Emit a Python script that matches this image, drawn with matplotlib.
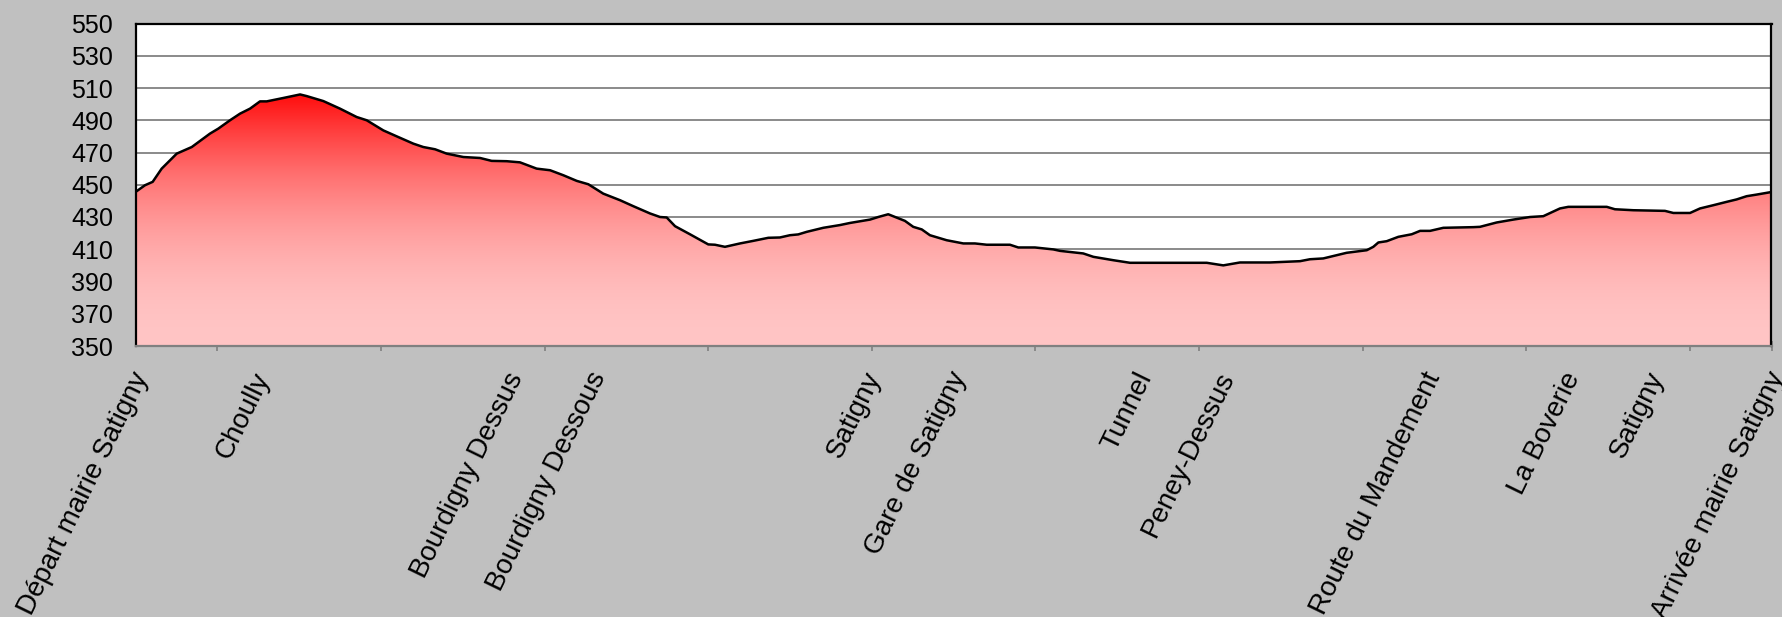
import numpy as np
import matplotlib
matplotlib.use("Agg")
import matplotlib.pyplot as plt

# ---- data -------------------------------------------------------------
dist = [0.0, 0.058, 0.105, 0.160, 0.252, 0.344, 0.455, 0.506, 0.578, 0.639,
        0.700, 0.761, 0.802, 0.903, 1.006, 1.046, 1.148, 1.250, 1.352, 1.413,
        1.515, 1.597, 1.698, 1.759, 1.831, 1.902, 2.004, 2.106, 2.177, 2.269,
        2.350, 2.452, 2.534, 2.615, 2.697, 2.768, 2.859, 2.962, 3.043, 3.145,
        3.206, 3.247, 3.298, 3.389, 3.501, 3.542, 3.603, 3.695, 3.776, 3.868,
        3.939, 4.000, 4.051, 4.103, 4.204, 4.306, 4.367, 4.490, 4.540, 4.601,
        4.703, 4.754, 4.806, 4.856, 4.958, 5.060, 5.131, 5.203, 5.345, 5.396,
        5.498, 5.610, 5.651, 5.793, 5.855, 5.977, 6.079, 6.548, 6.649, 6.751,
        6.934, 7.118, 7.179, 7.260, 7.301, 7.403, 7.526, 7.566, 7.597, 7.648,
        7.719, 7.801, 7.852, 7.913, 7.994, 8.177, 8.218, 8.320, 8.422, 8.524,
        8.605, 8.707, 8.758, 8.993, 9.043, 9.155, 9.349, 9.400, 9.502, 9.563,
        9.644, 9.726, 9.787, 9.848, 9.909, 10.0]

elev = [445.5, 449.7, 451.8, 460.0, 469.3, 473.4, 481.7, 484.8, 490.0, 494.1,
        497.2, 501.7, 501.7, 503.8, 506.0, 505.0, 501.9, 497.2, 492.0, 490.0,
        483.7, 480.0, 475.5, 473.4, 472.0, 469.3, 467.2, 466.6, 464.8, 464.6,
        463.9, 460.0, 459.0, 455.9, 452.4, 450.3, 444.5, 440.4, 436.7, 432.2,
        430.0, 429.7, 424.3, 419.3, 413.0, 412.8, 411.5, 413.6, 415.2, 417.1,
        417.3, 418.7, 419.2, 420.8, 423.3, 425.0, 426.3, 428.4, 430.0, 431.7,
        427.6, 423.9, 422.3, 418.7, 415.6, 413.6, 413.6, 412.8, 412.8, 411.1,
        411.1, 409.9, 409.0, 407.4, 405.3, 403.2, 401.6, 401.6, 400.0, 401.8,
        401.8, 402.6, 403.8, 404.3, 405.3, 407.8, 409.4, 411.5, 414.2, 415.0,
        417.7, 419.3, 421.4, 421.4, 423.3, 423.7, 423.9, 426.6, 428.4, 430.0,
        430.5, 435.3, 436.3, 436.3, 434.8, 434.2, 433.8, 432.5, 432.5, 435.3,
        437.3, 439.4, 440.9, 442.9, 443.9, 445.5]

place_dist = [0.0, 0.743, 2.289, 2.797, 4.477, 5.0, 6.137, 6.635, 7.897,
              8.750, 9.260, 10.0]
place_names = ["Départ mairie Satigny", "Choully", "Bourdigny Dessus",
               "Bourdigny Dessous", "Satigny", "Gare de Satigny", "Tunnel",
               "Peney-Dessus", "Route du Mandement", "La Boverie", "Satigny",
               "Arrivée mairie Satigny"]

y_ticks = [350, 370, 390, 410, 430, 450, 470, 490, 510, 530, 550]
x_tick_marks = [0.5, 1.5, 2.5, 3.5, 4.5, 5.5, 6.5, 7.5, 8.5, 9.5, 10.0]

# ---- figure -----------------------------------------------------------
plt.rcParams['font.family'] = ['Liberation Sans', 'DejaVu Sans']
W, H = 1783, 617
fig = plt.figure(figsize=(W / 100, H / 100), dpi=100, facecolor='#c0c0c0')
ax = fig.add_axes([135.5 / W, (H - 346) / H, (1771.5 - 135.5) / W, (346 - 23.5) / H])
ax.set_facecolor('white')
ax.set_xlim(0, 10)
ax.set_ylim(350, 550)

# grid lines
for yv in y_ticks[1:-1]:
    ax.axhline(yv, color='#8a8a8a', lw=1.4, zorder=1)

# gradient fill clipped to the profile
poly = ax.fill_between(dist, elev, 350, facecolor='none', edgecolor='none', zorder=2)
top = max(elev)
n = 400
vals = np.linspace(350, top, n)
s = (top - vals) / (top - 350)
pale = (12 + 185 * (1 - (1 - s) ** 2)) / 255.0
img = np.zeros((n, 2, 3))
img[:, :, 0] = 1.0
img[:, :, 1] = pale[:, None]
img[:, :, 2] = pale[:, None]
im = ax.imshow(img, extent=[0, 10, 350, top], origin='lower', aspect='auto',
               zorder=2, interpolation='bilinear')
im.set_clip_path(poly.get_paths()[0], transform=ax.transData)

ax.plot(dist, elev, color='black', lw=1.8, zorder=3, solid_joinstyle='round')

# spines
for side in ['left', 'top', 'right']:
    ax.spines[side].set_color('black')
    ax.spines[side].set_linewidth(1.6)
    ax.spines[side].set_zorder(5)
ax.spines['bottom'].set_color('#808080')
ax.spines['bottom'].set_linewidth(1.6)
ax.spines['bottom'].set_zorder(5)

# ticks
ax.set_yticks(y_ticks)
ax.set_yticklabels([str(v) for v in y_ticks])
ax.tick_params(axis='y', length=0, pad=16, labelsize=18, colors='black')
ax.set_xticks(x_tick_marks)
ax.set_xticklabels([])
ax.tick_params(axis='x', direction='inout', length=7, width=1.2, color='#808080')

# place labels
for d, name in zip(place_dist, place_names):
    ax.annotate(name, xy=(d, 0), xycoords=('data', 'axes fraction'),
                xytext=(-5, -22), textcoords='offset pixels',
                rotation=64, rotation_mode='anchor', ha='right', va='top',
                fontsize=20, color='black', annotation_clip=False)

fig.savefig('out.png', dpi=100, facecolor=fig.get_facecolor())
